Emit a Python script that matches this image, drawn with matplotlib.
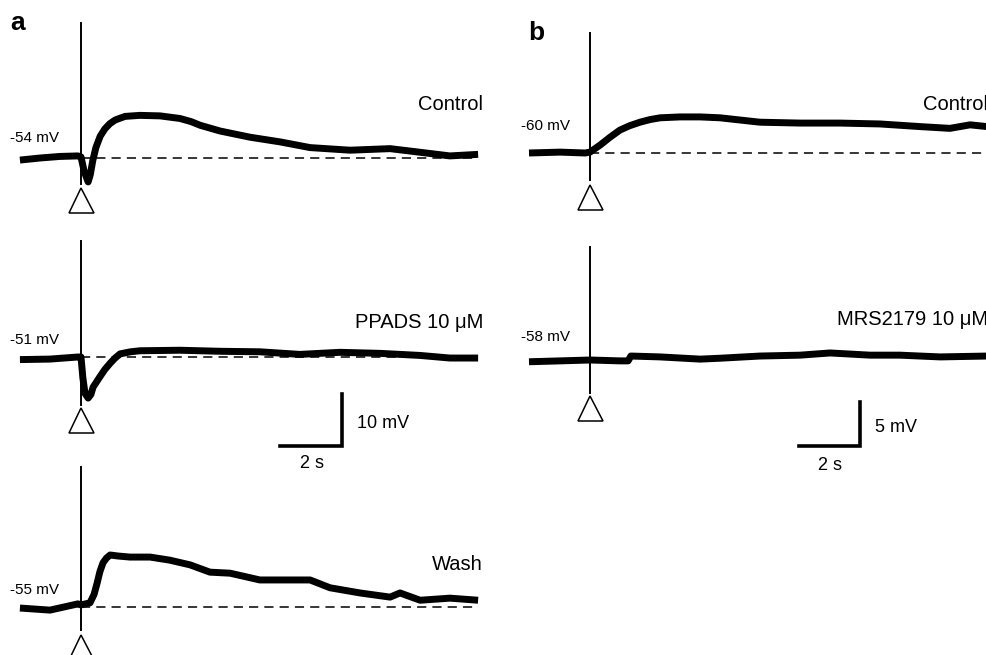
import matplotlib
matplotlib.use("Agg")
import matplotlib.pyplot as plt

plt.rcParams['font.family'] = ['Liberation Sans', 'DejaVu Sans']

W, H = 987, 655

# traces: time (s, 0 = stimulus) and membrane potential change (mV, 0 = resting level)
t_a_ctrl = [-1.97, -1.32, -0.68, -0.10, 0.0, 0.10, 0.23, 0.30, 0.38, 0.48, 0.62, 0.77, 0.93,
            1.10, 1.42, 1.90, 2.55, 3.19, 3.55, 3.84, 4.48, 5.45, 6.42, 7.39, 8.68, 9.97,
            10.94, 11.90, 12.81]
v_a_ctrl = [-0.4, 0.0, 0.3, 0.4, 0.2, -2.5, -4.6, -3.2, -0.5, 2.0, 4.2, 5.6, 6.6,
            7.3, 8.0, 8.2, 8.1, 7.6, 7.0, 6.3, 5.2, 4.0, 3.1, 2.0, 1.5, 1.8,
            1.1, 0.4, 0.7]

t_a_ppads = [-1.97, -1.00, -0.10, 0.0, 0.06, 0.13, 0.23, 0.32, 0.39, 0.50, 0.61, 0.77,
             0.94, 1.10, 1.26, 1.60, 1.90, 3.19, 4.48, 5.77, 7.06, 8.35, 9.65, 10.94,
             11.90, 12.81]
v_a_ppads = [-0.5, -0.4, 0.0, 0.0, -4.0, -7.0, -7.9, -7.2, -5.8, -4.8, -3.8, -2.4,
             -1.2, -0.2, 0.6, 1.0, 1.2, 1.3, 1.1, 1.0, 0.5, 0.9, 0.7, 0.3,
             -0.2, -0.2]

t_a_wash = [-1.97, -1.00, -0.10, 0.0, 0.29, 0.42, 0.52, 0.61, 0.71, 0.82, 0.94, 1.20,
            1.58, 2.23, 2.87, 3.52, 4.16, 4.81, 5.77, 6.74, 7.39, 8.03, 9.00, 9.97,
            10.29, 10.94, 11.90, 12.81]
v_a_wash = [-0.2, -0.6, 0.6, 0.4, 0.8, 2.4, 4.6, 6.8, 8.5, 9.4, 10.0, 9.8,
            9.6, 9.6, 9.0, 8.1, 6.7, 6.5, 5.2, 5.2, 5.2, 3.7, 2.7, 1.9,
            2.7, 1.3, 1.7, 1.3]

t_b_ctrl = [-2.0, -0.98, -0.16, 0.0, 0.33, 0.66, 0.98, 1.30, 1.64, 1.97, 2.30, 2.95,
            3.61, 4.26, 5.57, 6.89, 8.20, 9.51, 10.82, 11.80, 12.46, 13.02]
v_b_ctrl = [0.0, 0.1, 0.0, 0.1, 0.9, 1.8, 2.6, 3.1, 3.5, 3.8, 4.0, 4.1,
            4.1, 4.0, 3.5, 3.4, 3.4, 3.3, 3.0, 2.8, 3.2, 3.0]

t_b_mrs = [-2.0, -0.98, 0.0, 0.98, 1.25, 1.34, 2.30, 3.61, 4.26, 5.57, 6.89, 7.87,
           9.18, 10.16, 11.48, 13.02]
v_b_mrs = [-0.2, -0.1, 0.0, -0.1, -0.1, 0.45, 0.35, 0.1, 0.2, 0.45, 0.55, 0.8,
           0.55, 0.55, 0.35, 0.45]

# stimulus artefact (top, bottom) in mV and resting potentials
spike_a = [(26.0, -5.0), (22.3, -9.2), (26.9, -4.4)]
spike_b = [(13.6, -3.1), (12.8, -3.75)]
rest_a = ['-54 mV', '-51 mV', '-55 mV']
rest_b = ['-60 mV', '-58 mV']
names_a = ['Control', 'PPADS 10 \u03bcM', 'Wash']
names_b = ['Control', 'MRS2179 10 \u03bcM']

fig = plt.figure(figsize=(W / 100, H / 100), dpi=100)


def trace_axes(stim_px, base_px, px_s, px_mv):
    # full-figure axes, scaled so 1 s / 1 mV matches the original pixel sizes
    ax = fig.add_axes([0, 0, 1, 1])
    ax.set_xlim(-stim_px / px_s, (W - stim_px) / px_s)
    ax.set_ylim(-(H - base_px) / px_mv, base_px / px_mv)
    ax.axis('off')
    ax.patch.set_alpha(0)
    return ax


def draw(ax, t, v, spike, tri_mv, t_end, dashed=True):
    ax.plot(t, v, color='black', lw=5.0, solid_joinstyle='round', solid_capstyle='butt')
    ax.plot([0, 0], spike, color='black', lw=1.4)
    if dashed:
        ax.plot([0, t_end], [0, 0], color='black', lw=1.1, dashes=(6, 4))
    ax.plot([0], [tri_mv], marker='^', ms=18, mfc='white', mec='black', mew=1.1)


def ftext(x, y, s, **kw):
    fig.text(x / W, 1 - y / H, s, va='center', **kw)


# panel a
a_pxs, a_pxmv = 31.0, 5.2
a_base = [158, 357, 607]
a_tri = [-8.1, -12.1, -7.7]
a_data = [(t_a_ctrl, v_a_ctrl), (t_a_ppads, v_a_ppads), (t_a_wash, v_a_wash)]
a_rest_y = [138, 340, 590]
a_name_y = [104, 322, 565]
for i in range(3):
    ax = trace_axes(81, a_base[i], a_pxs, a_pxmv)
    t, v = a_data[i]
    draw(ax, t, v, spike_a[i], a_tri[i], t[-1])
    ftext(10, a_rest_y[i], rest_a[i], fontsize=11, ha='left')
    ftext(483, a_name_y[i], names_a[i], fontsize=14.5, ha='right')
    if i == 1:
        # scale bar 2 s / 10 mV
        x1 = (342 - 81) / a_pxs
        yb = (a_base[i] - 446) / a_pxmv
        ax.plot([x1 - 2, x1, x1], [yb, yb, yb + 10], color='black', lw=2.6,
                solid_joinstyle='miter')

ftext(357, 424, '10 mV', fontsize=13, ha='left')
ftext(312, 464, '2 s', fontsize=13, ha='center')

# panel b
b_pxs, b_pxmv = 30.5, 8.8
b_base = [153, 360]
b_tri = [-5.0, -5.45]
b_data = [(t_b_ctrl, v_b_ctrl), (t_b_mrs, v_b_mrs)]
b_rest_y = [126, 337]
b_name_y = [104, 320]
for i in range(2):
    ax = trace_axes(590, b_base[i], b_pxs, b_pxmv)
    t, v = b_data[i]
    draw(ax, t, v, spike_b[i], b_tri[i], t[-1], dashed=(i == 0))
    ftext(521, b_rest_y[i], rest_b[i], fontsize=11, ha='left')
    ftext(988, b_name_y[i], names_b[i], fontsize=14.5, ha='right')
    if i == 1:
        # scale bar 2 s / 5 mV
        x1 = (860 - 590) / b_pxs
        yb = (b_base[i] - 446) / b_pxmv
        ax.plot([x1 - 2, x1, x1], [yb, yb, yb + 5], color='black', lw=2.6,
                solid_joinstyle='miter')

ftext(875, 427, '5 mV', fontsize=13, ha='left')
ftext(830, 465, '2 s', fontsize=13, ha='center')

ftext(10, 23, 'a', fontsize=19, fontweight='bold', ha='left')
ftext(528, 33, 'b', fontsize=19, fontweight='bold', ha='left')

fig.savefig('out.png', dpi=100)
